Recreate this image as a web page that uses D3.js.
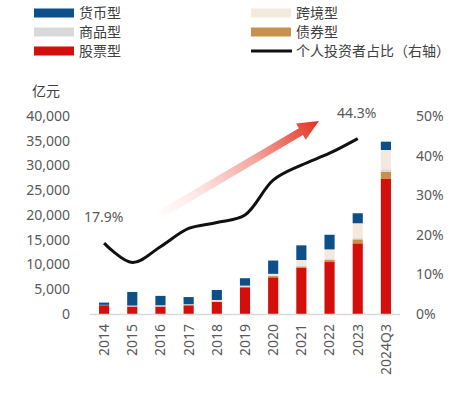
<!DOCTYPE html>
<html><head><meta charset="utf-8">
<script src="https://cdn.jsdelivr.net/npm/d3@7"></script>
<style>body{margin:0;background:#fff;}svg{display:block;font-family:"Noto Sans","Noto Sans CJK SC",sans-serif;}</style>
</head><body>
<svg id="c" width="472" height="394"></svg>
<script>
const categories = ["2014","2015","2016","2017","2018","2019","2020","2021","2022","2023","2024Q3"];
const stock     = [1780, 1500, 1500, 1760, 2420, 5390, 7410, 9360, 10500, 14280, 27270];
const bond      = [20, 20, 30, 30, 100, 120, 250, 250, 400, 800, 1480];
const commodity = [30, 150, 200, 150, 150, 120, 150, 200, 200, 250, 480];
const crossBorder = [20, 30, 30, 30, 150, 100, 300, 1100, 1950, 3000, 3900];
const money     = [450, 2750, 1900, 1450, 2030, 1500, 2690, 2960, 2960, 2020, 1680];
const retailShare = [17.9, 13.0, 17.0, 21.6, 23.1, 25.0, 33.8, 37.6, 40.6, 44.3];
const leftTicks = [0,5000,10000,15000,20000,25000,30000,35000,40000];
const rightTicks = [0,10,20,30,40,50];

const seriesNames = ["股票型","债券型","商品型","跨境型","货币型"];
const seriesData = [stock, bond, commodity, crossBorder, money];
const colors = {"股票型":"#d40f0b","债券型":"#c98f4c","商品型":"#d9d9d9","跨境型":"#f4e9dd","货币型":"#0c4f8a"};

const svg = d3.select("#c");
const textColor = "#595959";

const x = d3.scaleBand().domain(categories).range([90,400]).paddingInner(0.64).paddingOuter(0.32);
const y = d3.scaleLinear().domain([0,40000]).range([314,116]);
const y2 = d3.scaleLinear().domain([0,50]).range([314,116]);

const table = categories.map((c,i)=>{const o={cat:c}; seriesNames.forEach((s,j)=>o[s]=seriesData[j][i]); return o;});
const stacked = d3.stack().keys(seriesNames)(table);

// arrow
const defs = svg.append("defs");
const tail = [156,217], tip = [319,121];
const L = Math.hypot(tip[0]-tail[0], tip[1]-tail[1]);
const ang = Math.atan2(tip[1]-tail[1], tip[0]-tail[0])*180/Math.PI;
const g = defs.append("linearGradient").attr("id","ag").attr("gradientUnits","userSpaceOnUse")
  .attr("x1",0).attr("y1",0).attr("x2",L).attr("y2",0);
g.append("stop").attr("offset",0).attr("stop-color","#e83a2c").attr("stop-opacity",0);
g.append("stop").attr("offset",0.25).attr("stop-color","#e83a2c").attr("stop-opacity",0.12);
g.append("stop").attr("offset",0.6).attr("stop-color","#e83a2c").attr("stop-opacity",0.45);
g.append("stop").attr("offset",1).attr("stop-color","#e3301f").attr("stop-opacity",1);
const hl=21, hw=9.5, sw=4;
svg.append("g").attr("transform",`translate(${tail[0]},${tail[1]}) rotate(${ang})`)
  .append("polygon")
  .attr("points",[[0,-sw],[L-hl,-sw],[L-hl,-hw],[L,0],[L-hl,hw],[L-hl,sw],[0,sw]].map(p=>p.join(",")).join(" "))
  .attr("fill","url(#ag)");

// bars
svg.append("g").selectAll("g").data(stacked).join("g").attr("fill",d=>colors[d.key])
  .selectAll("rect").data(d=>d).join("rect")
  .attr("x",d=>x(d.data.cat)).attr("width",x.bandwidth())
  .attr("y",d=>y(d[1])).attr("height",d=>Math.max(0,y(d[0])-y(d[1])));

svg.append("line").attr("x1",90).attr("x2",400).attr("y1",314.5).attr("y2",314.5)
  .attr("stroke","#d9d9d9").attr("stroke-width",1.5);

const fmt = d3.format(",");
svg.append("g").selectAll("text").data(leftTicks).join("text")
  .attr("x",70).attr("y",d=>y(d)).attr("dy","0.35em").attr("text-anchor","end")
  .attr("fill",textColor).attr("font-size",14).text(d=>fmt(d));
svg.append("text").attr("x",46).attr("y",91).attr("dy","0.35em").attr("text-anchor","middle")
  .attr("fill","#404040").attr("font-size",14).text("亿元");

svg.append("g").selectAll("text").data(rightTicks).join("text")
  .attr("x",416).attr("y",d=>y2(d)).attr("dy","0.35em").attr("text-anchor","start")
  .attr("fill",textColor).attr("font-size",14).text(d=>d+"%");

svg.append("g").selectAll("text").data(categories).join("text")
  .attr("transform",d=>`translate(${x(d)+x.bandwidth()/2},324) rotate(-90)`)
  .attr("dy","0.35em").attr("text-anchor","end")
  .attr("fill",textColor).attr("font-size",14).text(d=>d);

const lineData = retailShare.map((v,i)=>({cat:categories[i],v}));
svg.append("path").datum(lineData)
  .attr("d",d3.line().x(d=>x(d.cat)+x.bandwidth()/2).y(d=>y2(d.v)).curve(d3.curveCatmullRom.alpha(0.5)))
  .attr("fill","none").attr("stroke","#111").attr("stroke-width",3).attr("stroke-linejoin","round");

svg.append("text").attr("x",84).attr("y",217).attr("dy","0.35em").attr("fill",textColor).attr("font-size",14).text("17.9%");
svg.append("text").attr("x",337).attr("y",113).attr("dy","0.35em").attr("fill",textColor).attr("font-size",14).text("44.3%");

const legend = [
  {name:"货币型",col:0,row:0},{name:"跨境型",col:1,row:0},
  {name:"商品型",col:0,row:1},{name:"债券型",col:1,row:1},
  {name:"股票型",col:0,row:2},{name:"个人投资者占比（右轴）",col:1,row:2,line:true}];
const lg = svg.append("g");
legend.forEach(l=>{
  const lx = l.col? 251:34, ly = 13 + l.row*19;
  if(l.line) lg.append("line").attr("x1",lx).attr("x2",lx+41).attr("y1",ly).attr("y2",ly).attr("stroke","#111").attr("stroke-width",3);
  else lg.append("rect").attr("x",lx).attr("y",ly-4.5).attr("width",40).attr("height",9).attr("fill",colors[l.name]);
  lg.append("text").attr("x",lx+45).attr("y",ly).attr("dy","0.35em").attr("fill","#404040").attr("font-size",14).text(l.name);
});
</script>
</body></html>
